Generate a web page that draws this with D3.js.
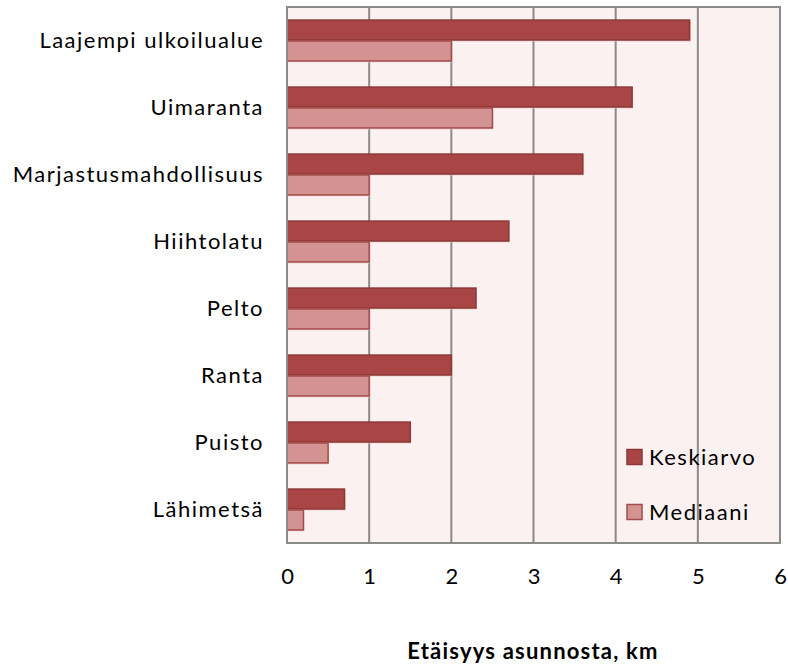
<!DOCTYPE html>
<html>
<head>
<meta charset="utf-8">
<script src="https://cdn.jsdelivr.net/npm/d3@7"></script>
<style>
  html, body { margin: 0; padding: 0; background: #ffffff; }
  svg { display: block; }
  text { font-family: Lato, "Open Sans", sans-serif; fill: #000; }
</style>
</head>
<body>
<svg id="chart" width="788" height="665"></svg>
<script>
// Places, top to bottom
const categories = ["Laajempi ulkoilualue", "Uimaranta", "Marjastusmahdollisuus", "Hiihtolatu", "Pelto", "Ranta", "Puisto", "Lähimetsä"];
// Distance from home, km
const keskiarvo = [4.9, 4.2, 3.6, 2.7, 2.3, 2.0, 1.5, 0.7];
const mediaani  = [2.0, 2.5, 1.0, 1.0, 1.0, 1.0, 0.5, 0.2];
const seriesNames = ["Keskiarvo", "Mediaani"];
const xTicks = [0, 1, 2, 3, 4, 5, 6];
const axisTitle = "Etäisyys asunnosta, km";

const svg = d3.select("#chart");
const plot = { left: 287, right: 780, top: 7, bottom: 543 };
const labelFont = "Lato, 'Open Sans', sans-serif";
const labelSize = "22px";
const spacing = "1.5px";

const x = d3.scaleLinear().domain([0, 6]).range([plot.left, plot.right]);
const y = d3.scaleBand().domain(categories).range([plot.top, plot.bottom]).paddingInner(0.375).paddingOuter(0.1875);
const sub = d3.scaleBand().domain(seriesNames).range([0, y.bandwidth()]);

const fills = { Keskiarvo: "#a94544", Mediaani: "#d49393" };
const strokes = { Keskiarvo: "#8c3836", Mediaani: "#a64b4a" };

// plot background
svg.append("rect")
  .attr("x", plot.left).attr("y", plot.top)
  .attr("width", plot.right - plot.left).attr("height", plot.bottom - plot.top)
  .attr("fill", "#fbf1f0");

// vertical gridlines
svg.append("g").selectAll("line").data(xTicks.slice(1, -1)).join("line")
  .attr("x1", d => x(d)).attr("x2", d => x(d))
  .attr("y1", plot.top).attr("y2", plot.bottom)
  .attr("stroke", "#8a8a8a").attr("stroke-width", 2);

// bars
const rows = categories.map((c, i) => ({ c, vals: [["Keskiarvo", keskiarvo[i]], ["Mediaani", mediaani[i]]] }));
const g = svg.append("g");
rows.forEach(r => {
  r.vals.forEach(([s, v]) => {
    const by = y(r.c) + sub(s);
    // soft shadow
    g.append("rect")
      .attr("x", x(0) + 1).attr("y", by + 2)
      .attr("width", x(v) - x(0)).attr("height", sub.bandwidth() - 1)
      .attr("fill", "#e9c9c8").attr("opacity", 0.8);
    g.append("rect")
      .attr("x", x(0)).attr("y", by + 0.5)
      .attr("width", x(v) - x(0)).attr("height", sub.bandwidth() - 1)
      .attr("fill", fills[s]).attr("stroke", strokes[s]).attr("stroke-width", 1.5);
  });
});

// plot frame
svg.append("rect")
  .attr("x", plot.left).attr("y", plot.top)
  .attr("width", plot.right - plot.left).attr("height", plot.bottom - plot.top)
  .attr("fill", "none").attr("stroke", "#8a8a8a").attr("stroke-width", 2);

// x axis labels
const xAxis = d3.axisBottom(x).tickValues(xTicks).tickSize(0).tickPadding(25).tickFormat(d3.format("d"));
const xa = svg.append("g").attr("transform", `translate(0,${plot.bottom})`).call(xAxis);
xa.select(".domain").remove();
xa.selectAll("text").style("font-size", labelSize).style("font-family", labelFont).attr("fill", "#000");

// y axis labels
const yAxis = d3.axisLeft(y).tickSize(0).tickPadding(23);
const ya = svg.append("g").attr("transform", `translate(${plot.left},0)`).call(yAxis);
ya.select(".domain").remove();
ya.selectAll("text").style("font-size", labelSize).style("font-family", labelFont)
  .style("letter-spacing", spacing).attr("fill", "#000");

// axis title
svg.append("text")
  .attr("x", 533).attr("y", 659)
  .attr("text-anchor", "middle")
  .style("font-size", "22px").style("font-weight", "bold").style("letter-spacing", "1.2px")
  .text(axisTitle);

// legend
const legend = svg.append("g");
seriesNames.forEach((s, i) => {
  const ly = 457 + i * 55;
  legend.append("rect")
    .attr("x", 627).attr("y", ly - 7.5).attr("width", 15).attr("height", 15)
    .attr("fill", fills[s]).attr("stroke", strokes[s]).attr("stroke-width", 1.5);
  legend.append("text")
    .attr("x", 649).attr("y", ly).attr("dy", "0.35em")
    .style("font-size", labelSize).style("letter-spacing", spacing)
    .text(s);
});
</script>
</body>
</html>
